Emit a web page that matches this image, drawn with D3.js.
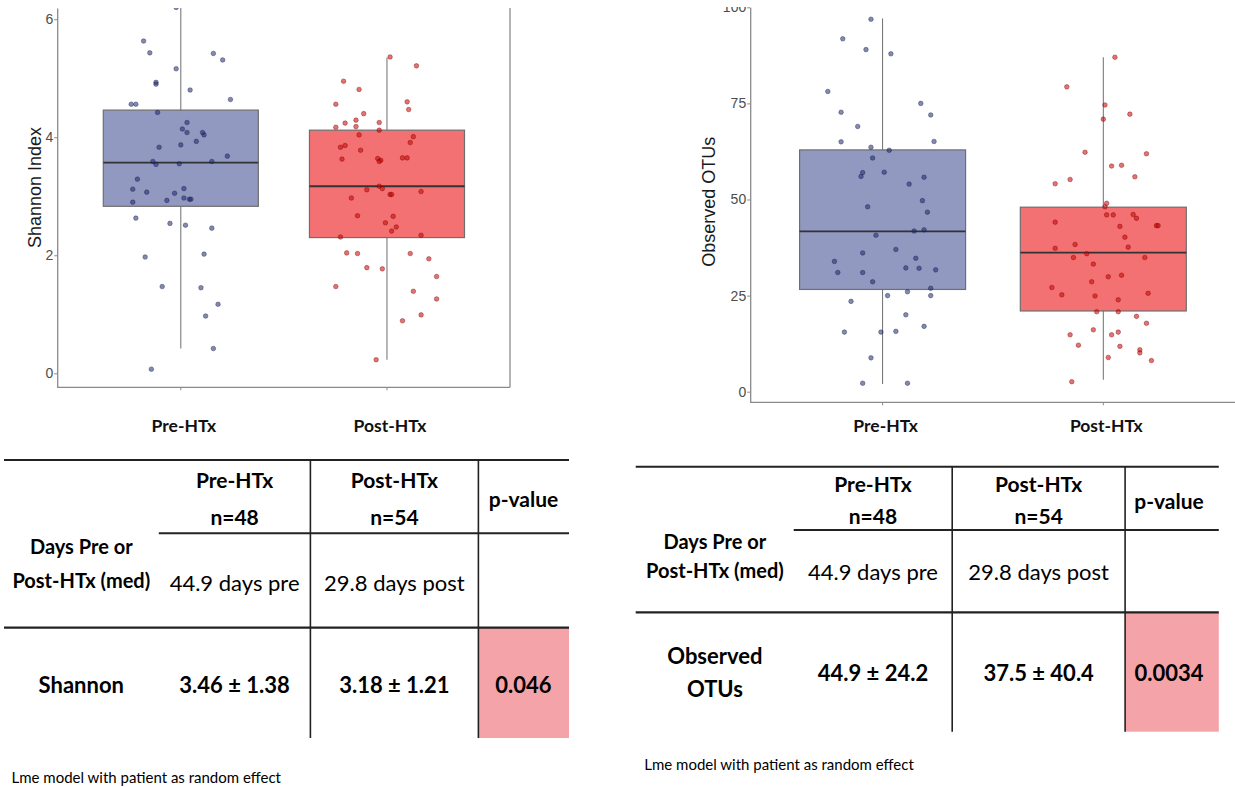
<!DOCTYPE html>
<html>
<head>
<meta charset="utf-8">
<script src="https://cdn.jsdelivr.net/npm/d3@7"></script>
<style>
  body { margin: 0; background: #fff; }
  svg { display: block; }
</style>
</head>
<body>
<div id="chart"></div>
<script>
const groups = ["Pre-HTx", "Post-HTx"]

// Shannon index: box stats per group
const shannonTicks = [0, 2, 4, 6]
const shannonQ1 = [2.83, 2.30]
const shannonMedian = [3.57, 3.17]
const shannonQ3 = [4.46, 4.12]
const shannonLow = [0.42, 0.23]
const shannonHigh = [6.3, 5.35]

const shannonPre = [6.2, 5.63, 5.43, 5.42, 5.31, 5.16, 4.93, 4.90, 4.80, 4.64, 4.56, 4.56, 4.42, 4.25, 4.14, 4.08, 4.08, 4.04, 3.93, 3.83, 3.87, 3.68, 3.59, 3.54, 3.55, 3.59, 3.29, 3.12, 3.07, 3.13, 3.05, 2.90, 2.93, 2.97, 2.95, 2.95, 2.63, 2.54, 2.51, 2.46, 1.97, 2.02, 1.47, 1.45, 1.17, 0.97, 0.42, 0.07]
const shannonPreJitter = [-0.03, -0.24, -0.2, 0.21, 0.27, -0.03, -0.16, -0.16, 0.06, 0.32, -0.32, -0.29, -0.15, 0.04, 0.01, 0.04, 0.14, 0.15, 0.1, -0.14, 0, 0.3, -0.18, -0.16, -0.01, 0.2, -0.28, -0.31, -0.22, 0.02, -0.04, -0.31, -0.09, 0.02, 0.055, 0.065, -0.29, -0.07, 0.03, 0.2, -0.23, 0.15, -0.12, 0.13, 0.24, 0.16, 0.21, -0.19]
const shannonPost = [5.36, 5.21, 4.95, 4.81, 4.60, 4.56, 4.47, 4.40, 4.29, 4.24, 4.25, 4.17, 4.18, 4.12, 4.04, 4.01, 3.91, 3.86, 3.83, 3.78, 3.63, 3.64, 3.61, 3.59, 3.65, 3.65, 3.17, 3.13, 3.11, 3.08, 3.03, 3.03, 2.97, 2.67, 2.66, 2.55, 2.48, 2.41, 2.31, 2.34, 2.04, 2.03, 2.03, 1.94, 1.79, 1.77, 1.64, 1.47, 1.39, 1.26, 0.99, 0.89, 0.23]
const shannonPostJitter = [0.02, 0.19, -0.28, -0.18, 0.13, -0.33, 0.14, -0.15, -0.2, -0.27, -0.05, -0.33, -0.2, -0.05, -0.18, 0.17, 0.15, -0.27, -0.3, -0.17, -0.29, -0.06, -0.04, -0.05, 0.1, 0.13, -0.05, -0.03, -0.13, 0.22, 0.02, 0.03, -0.23, -0.19, 0.04, -0.01, 0.06, 0.03, -0.3, 0.22, -0.26, -0.19, 0.15, 0.27, -0.13, -0.03, 0.32, -0.33, 0.17, 0.32, 0.22, 0.1, -0.07]

// Observed OTUs
const otuTicks = [0, 25, 50, 75, 100]
const otuQ1 = [26.6, 21.0]
const otuMedian = [41.7, 36.2]
const otuQ3 = [62.9, 48.0]
const otuLow = [2.0, 3.1]
const otuHigh = [97.1, 87.0]

const otuPre = [96.9, 91.8, 89.0, 87.9, 78.1, 75.0, 72.7, 72.0, 69.0, 65.0, 65.1, 63.6, 62.8, 60.8, 57.0, 57.1, 56.0, 55.8, 54.0, 49.7, 48.1, 46.7, 41.8, 42.1, 40.7, 37.0, 36.1, 34.7, 33.9, 31.0, 31.0, 32.2, 32.1, 31.7, 28.6, 26.9, 26.0, 25.0, 25.0, 23.5, 20.0, 17.0, 15.5, 15.5, 15.7, 8.8, 2.2, 2.2]
const otuPreJitter = [-0.07, -0.24, -0.1, 0.05, -0.33, 0.23, -0.25, 0.29, -0.15, -0.25, 0.31, -0.07, 0.04, -0.06, -0.12, 0.01, -0.13, 0.25, 0.16, 0.24, -0.09, 0.27, 0.19, 0.25, -0.04, 0.08, -0.12, 0.2, -0.29, -0.27, -0.12, 0.14, 0.22, 0.32, -0.06, 0.29, 0.15, 0.03, 0.29, -0.19, 0.14, 0.25, -0.23, -0.01, 0.08, -0.07, -0.12, 0.15]
const otuPost = [87.0, 79.3, 74.6, 72.2, 70.9, 62.3, 61.9, 58.9, 58.7, 55.9, 55.2, 54.1, 49.0, 48.1, 46.0, 46.0, 46.1, 45.1, 44.1, 43.0, 43.2, 43.2, 40.2, 38.3, 37.6, 37.3, 35.9, 34.9, 34.9, 33.2, 29.9, 30.3, 28.6, 27.1, 25.2, 24.9, 25.6, 23.9, 20.8, 20.8, 19.6, 17.8, 16.1, 15.5, 14.8, 14.8, 12.1, 11.8, 10.9, 10.1, 8.9, 8.1, 2.6]
const otuPostJitter = [0.07, -0.22, 0.01, 0.16, 0, -0.11, 0.26, 0.11, 0.05, 0.19, -0.2, -0.29, 0.02, 0.01, 0.02, 0.06, 0.18, 0.2, -0.29, 0.1, 0.32, 0.33, 0.13, -0.17, 0.15, -0.29, -0.1, -0.18, 0.25, -0.06, 0.03, 0.11, -0.07, -0.31, -0.25, -0.05, 0.27, 0.09, -0.04, 0.09, 0.2, 0.26, -0.06, 0.09, -0.2, 0.05, -0.15, 0.1, 0.22, 0.22, 0.03, 0.29, -0.19]

// tables
const headerGroups = ["Pre-HTx", "Post-HTx"]
const headerN = ["n=48", "n=54"]
const pHeader = "p-value"
const daysLabel = ["Days Pre or", "Post-HTx (med)"]
const daysValues = ["44.9 days pre", "29.8 days post"]
const shannonRow = ["3.46 ± 1.38", "3.18 ± 1.21"]
const shannonP = "0.046"
const otuRowLabel = ["Observed", "OTUs"]
const otuRow = ["44.9 ± 24.2", "37.5 ± 40.4"]
const otuP = "0.0034"
const note = "Lme model with patient as random effect"

const boxFill = ["#9199c0", "#f37172"]
const pointFill = ["rgba(30,40,110,0.55)", "rgba(200,0,0,0.55)"]
const pointStroke = ["rgba(20,25,70,0.55)", "rgba(120,0,0,0.55)"]

const width = 1235
const height = 787
const svg = d3.select("#chart").append("svg")
  .attr("width", width)
  .attr("height", height)

const defs = svg.append("defs")

function drawBoxplot(cfg) {
  defs.append("clipPath").attr("id", cfg.id + "-clip")
    .append("rect")
    .attr("x", 0).attr("y", cfg.clipTop)
    .attr("width", width).attr("height", 440 - cfg.clipTop)

  const g = svg.append("g").attr("clip-path", `url(#${cfg.id}-clip)`)

  const x = d3.scaleBand()
    .domain(groups)
    .range(cfg.xRange)
    .paddingInner(0.248)
    .paddingOuter(0)

  const y = d3.scaleLinear()
    .domain(cfg.yDomain)
    .range(cfg.yRange)

  const bw = x.bandwidth()
  const cx = (gname) => x(gname) + bw / 2

  // y axis
  const yAxis = g.append("g")
    .attr("transform", `translate(${cfg.axisX},0)`)
    .call(d3.axisLeft(y).tickValues(cfg.ticks).tickSize(3).tickSizeOuter(0).tickFormat(d3.format("d")))
  yAxis.select(".domain").attr("stroke", "#8a8a8a").attr("stroke-width", 1.3)
  yAxis.selectAll(".tick line").attr("stroke", "#8a8a8a")
  yAxis.selectAll(".tick text")
    .attr("fill", "#4d4d4d")
    .style("font-family", "'Liberation Sans', Arial, sans-serif")
    .style("font-size", "14px")
    .attr("x", -4)

  // x axis
  const xAxis = g.append("g")
    .attr("transform", `translate(0,${cfg.yRange[0]})`)
    .call(d3.axisBottom(x).tickSize(3).tickSizeOuter(0).tickFormat(""))
  xAxis.select(".domain").remove()
  xAxis.selectAll(".tick line").attr("stroke", "#8a8a8a")

  g.append("line")
    .attr("x1", cfg.axisX).attr("x2", cfg.xAxisEnd)
    .attr("y1", cfg.yRange[0]).attr("y2", cfg.yRange[0])
    .attr("stroke", "#8a8a8a").attr("stroke-width", 1.3)

  if (cfg.rightBorder) {
    g.append("line")
      .attr("x1", cfg.rightBorder).attr("x2", cfg.rightBorder)
      .attr("y1", cfg.yRange[1]).attr("y2", cfg.yRange[0])
      .attr("stroke", "#8a8a8a").attr("stroke-width", 1.3)
  }

  g.selectAll(".cat")
    .data(groups)
    .join("text")
    .attr("x", (d) => cx(d) + 3)
    .attr("y", 425)
    .attr("text-anchor", "middle")
    .attr("dominant-baseline", "central")
    .style("font-family", "Lato, sans-serif")
    .style("font-weight", "bold")
    .style("font-size", "17.5px")
    .attr("fill", "#111")
    .text((d) => d)

  g.append("text")
    .attr("transform", `translate(${cfg.titlePos[0]},${cfg.titlePos[1]}) rotate(-90)`)
    .attr("text-anchor", "middle")
    .attr("dominant-baseline", "central")
    .style("font-family", "'Liberation Sans', Arial, sans-serif")
    .style("font-size", "18px")
    .attr("fill", "#1a1a1a")
    .text(cfg.title)

  const plot = g.append("g")

  // whiskers
  plot.selectAll(".whisker")
    .data(groups)
    .join("line")
    .attr("x1", (d) => cx(d)).attr("x2", (d) => cx(d))
    .attr("y1", (d, i) => y(cfg.high[i]))
    .attr("y2", (d, i) => y(cfg.low[i]))
    .attr("stroke", "#6e6e6e")
    .attr("stroke-width", 1)

  // boxes
  plot.selectAll(".box")
    .data(groups)
    .join("rect")
    .attr("x", (d) => x(d))
    .attr("width", bw)
    .attr("y", (d, i) => y(cfg.q3[i]))
    .attr("height", (d, i) => y(cfg.q1[i]) - y(cfg.q3[i]))
    .attr("fill", (d, i) => boxFill[i])
    .attr("stroke", "#6e6e6e")
    .attr("stroke-width", 1.2)

  plot.selectAll(".median")
    .data(groups)
    .join("line")
    .attr("x1", (d) => x(d)).attr("x2", (d) => x(d) + bw)
    .attr("y1", (d, i) => y(cfg.median[i]))
    .attr("y2", (d, i) => y(cfg.median[i]))
    .attr("stroke", "#333")
    .attr("stroke-width", 1.8)

  // jittered points
  cfg.points.forEach((pts, i) => {
    plot.append("g")
      .selectAll("circle")
      .data(d3.zip(pts.values, pts.jitter))
      .join("circle")
      .attr("cx", (d) => cx(groups[i]) + d[1] * bw)
      .attr("cy", (d) => y(d[0]))
      .attr("r", 2.3)
      .attr("fill", pointFill[i])
      .attr("stroke", pointStroke[i])
      .attr("stroke-width", 0.7)
  })
}

drawBoxplot({
  id: "shannon",
  clipTop: 8,
  xRange: [103.3, 464.5],
  yDomain: [-0.237, 6.19],
  yRange: [387.3, 8],
  axisX: 57.2,
  xAxisEnd: 510,
  rightBorder: 510,
  ticks: shannonTicks,
  title: "Shannon Index",
  titlePos: [35, 187.5],
  q1: shannonQ1, median: shannonMedian, q3: shannonQ3, low: shannonLow, high: shannonHigh,
  points: [
    { values: shannonPre, jitter: shannonPreJitter },
    { values: shannonPost, jitter: shannonPostJitter }
  ]
})

drawBoxplot({
  id: "otu",
  clipTop: 7,
  xRange: [799.6, 1186.3],
  yDomain: [-2.76, 100],
  yRange: [402.3, 7.3],
  axisX: 750.2,
  xAxisEnd: 1235,
  rightBorder: null,
  ticks: otuTicks,
  title: "Observed OTUs",
  titlePos: [709.4, 201.7],
  q1: otuQ1, median: otuMedian, q3: otuQ3, low: otuLow, high: otuHigh,
  points: [
    { values: otuPre, jitter: otuPreJitter },
    { values: otuPost, jitter: otuPostJitter }
  ]
})

function drawTable(t) {
  const g = svg.append("g")
  const line = (x1, y1, x2, y2, w) => g.append("line")
    .attr("x1", x1).attr("y1", y1).attr("x2", x2).attr("y2", y2)
    .attr("stroke", "#222").attr("stroke-width", w)

  g.append("rect")
    .attr("x", t.cols[2]).attr("y", t.rows[2])
    .attr("width", t.right - t.cols[2]).attr("height", t.rows[3] - t.rows[2])
    .attr("fill", "#f4a4a8")

  line(t.left, t.rows[0], t.right, t.rows[0], 2)
  line(t.cols[0], t.rows[1], t.right, t.rows[1], 2)
  line(t.left, t.rows[2], t.right, t.rows[2], 2.2)
  line(t.cols[1], t.rows[0], t.cols[1], t.rows[3], 1.6)
  line(t.cols[2], t.rows[0], t.cols[2], t.rows[3], 1.6)

  const text = (str, x, y, size, bold, anchor) => g.append("text")
    .attr("x", x).attr("y", y)
    .attr("text-anchor", anchor || "middle")
    .attr("dominant-baseline", "central")
    .style("font-family", "Lato, sans-serif")
    .style("font-weight", bold ? "bold" : "normal")
    .style("font-size", size + "px")
    .attr("fill", "#000")
    .text(str)

  const colCenters = [(t.cols[0] + t.cols[1]) / 2, (t.cols[1] + t.cols[2]) / 2]
  const centers = [t.labelX, ...colCenters]

  headerGroups.forEach((h, i) => {
    text(h, centers[i + 1], t.headY[0], 21, true)
    text(headerN[i], centers[i + 1], t.headY[1], 21, true)
  })
  text(pHeader, t.pX, t.pHeadY, 21, true)

  daysLabel.forEach((d, i) => text(d, t.labelX, t.daysLabelY[i], 20, true))
  daysValues.forEach((d, i) => text(d, centers[i + 1], t.daysY, 22, false))

  t.metricLabel.forEach((d, i) => text(d, t.labelX, t.metricLabelY[i], 22, true))
  t.metricValues.forEach((d, i) => text(d, centers[i + 1], t.metricY, 22, true))
  text(t.p, t.pX, t.metricY, 22, true)

  text(note, t.noteX, t.noteY, 15, false, "start")
}

drawTable({
  left: 4, right: 569,
  cols: [158.8, 310.4, 478.4],
  rows: [460, 533.3, 627.7, 738],
  labelX: 81.3,
  headY: [479.3, 516.7],
  pX: 523.5, pHeadY: 498.3,
  daysLabelY: [546, 580], daysY: 582.7,
  metricLabel: ["Shannon"], metricLabelY: [684.3],
  metricValues: shannonRow, metricY: 684.3,
  p: shannonP,
  noteX: 11.5, noteY: 776.7
})

drawTable({
  left: 635.7, right: 1218.8,
  cols: [793.7, 952.2, 1125.1],
  rows: [466.7, 530, 612.3, 731.7],
  labelX: 714.9,
  headY: [483.3, 515],
  pX: 1169, pHeadY: 500,
  daysLabelY: [540.7, 570], daysY: 571.7,
  metricLabel: otuRowLabel, metricLabelY: [655, 688.3],
  metricValues: otuRow, metricY: 672.3,
  p: otuP,
  noteX: 644.3, noteY: 764
})
</script>
</body>
</html>
